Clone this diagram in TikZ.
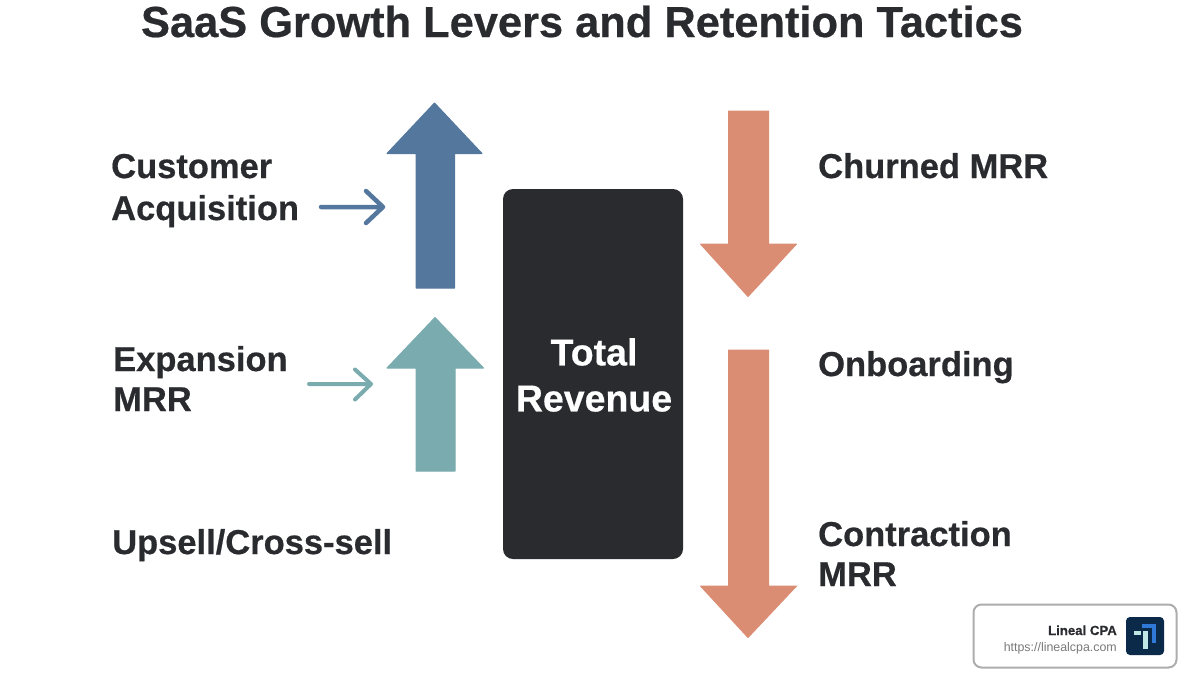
\documentclass[tikz,border=0pt]{standalone}
\usepackage{fontspec}
\setmainfont[BoldFeatures={FakeBold=0.5}]{Liberation Sans}
\definecolor{inkc}{HTML}{2A2B2F}
\definecolor{bluec}{HTML}{54779E}
\definecolor{tealc}{HTML}{7AABAE}
\definecolor{salmonc}{HTML}{DB8D73}
\definecolor{logoc}{HTML}{0B2A4A}
\definecolor{logoblue}{HTML}{2F7AD9}
\definecolor{logopale}{HTML}{BFE8E4}
\tikzset{
	lbl/.style={anchor=base west,inner sep=0pt,text=inkc,font=\fontsize{34.5}{34.5}\selectfont\bfseries},
	smallarrow/.style={line width=#1,line cap=round,line join=round},
	bigarrow/.style={line join=round,line width=1pt},
}
\begin{document}
\begin{tikzpicture}[x=1pt,y=-1pt]
		\useasboundingbox (0,0) rectangle (1190,680);
		\node[anchor=base,inner sep=0pt,text=inkc,font=\fontsize{43.4}{43.4}\selectfont\bfseries] (title) at (582,37) {SaaS Growth Levers and Retention Tactics};
		% labels on the left
		\node[lbl] (cust) at (111,178) {Customer};
		\node[lbl] (acq) at (111,220) {Acquisition};
		\node[lbl] (exp) at (113,371) {Expansion};
		\node[lbl] (mrr) at (113,411) {MRR};
		\node[lbl] (ups) at (112,554) {Upsell/Cross-sell};
		% labels on the right
		\node[lbl] (churn) at (818,178) {Churned MRR};
		\node[lbl] (onb) at (818,376) {Onboarding};
		\node[lbl] (contr) at (818,546) {Contraction};
		\node[lbl] (mrrb) at (818,586) {MRR};
		% centre block
		\node[draw=none,fill=inkc,rounded corners=10pt,minimum width=180pt,minimum height=370pt,inner sep=0pt] (total) at (593,374) {};
		\node[inner sep=0pt,text=white,align=center,font=\fontsize{37.5}{46}\selectfont\bfseries] (totaltxt) at (594,375) {Total\\Revenue};
		% big arrows
		\fill[bluec,draw=bluec,bigarrow] (434.5,103)--(482,153.5)--(454.5,153.5)--(454.5,288)--(416,288)--(416,153.5)--(387,153.5)--cycle;
		\fill[tealc,draw=tealc,bigarrow] (435,317.5)--(483.5,368)--(455,368)--(455,471)--(416,471)--(416,368)--(387,368)--cycle;
		\fill[salmonc,draw=salmonc,bigarrow] (728.5,111)--(768.5,111)--(768.5,244)--(796.5,244)--(748,296.5)--(700.5,244)--(728.5,244)--cycle;
		\fill[salmonc,draw=salmonc,bigarrow] (728.5,350)--(768.5,350)--(768.5,586)--(796.5,586)--(748,637.5)--(700.5,586)--(728.5,586)--cycle;
		% small arrows
		\coordinate (a1) at (321,207);
		\coordinate (a2) at (383,207);
		\coordinate (b1) at (309,384);
		\coordinate (b2) at (371,384);
		\draw[bluec,smallarrow=4.5pt] (a1)--(a2) (366,191)--(a2)--(366,223);
		\draw[tealc,smallarrow=4pt] (b1)--(b2) (355,369.5)--(b2)--(355,399.5);
		% badge
		\node[draw=black!32,line width=2pt,fill=white,rounded corners=8pt,minimum width=203pt,minimum height=63pt,inner sep=0pt] (badge) at (1075,636) {};
		\node[anchor=base east,inner sep=0pt,text=inkc,font=\fontsize{13.2}{13.2}\selectfont\bfseries] (bname) at (1117,635) {Lineal CPA};
		\node[anchor=base east,inner sep=0pt,text=black!52,font=\fontsize{12.4}{12.4}\selectfont] (burl) at (1117,651) {https://linealcpa.com};
		\fill[logoc,rounded corners=4pt] (1126,617) rectangle (1164,655);
		\fill[logoblue] (1141.7,624) rectangle (1156,628);
		\fill[logoblue] (1152,624) rectangle (1156,642.7);
		\fill[logopale] (1134,630.7) rectangle (1140.7,635);
		\fill[logopale] (1143.3,630.7) rectangle (1148.3,649.3);
\end{tikzpicture}
\end{document}
